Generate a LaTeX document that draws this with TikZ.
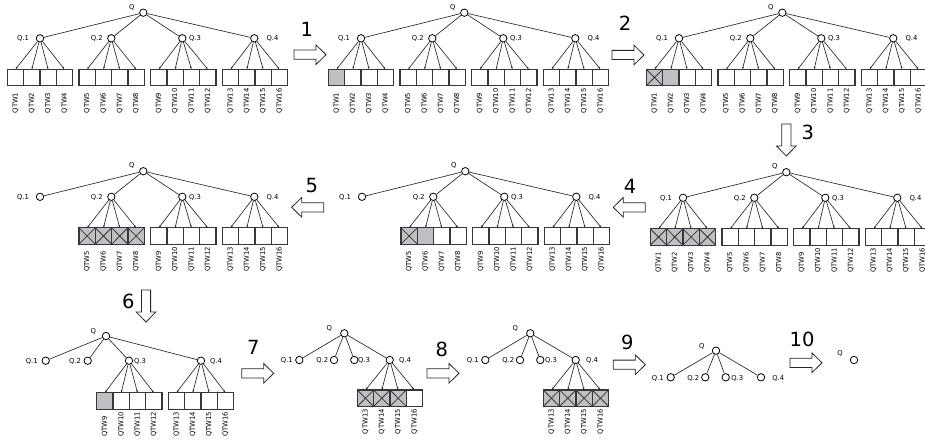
\documentclass[tikz,border=0pt]{standalone}
\usepackage{fontspec}
\setmainfont{DejaVu Sans}
\usetikzlibrary{arrows.meta}
\definecolor{cellgray}{RGB}{192,192,196}
\definecolor{celledge}{RGB}{55,55,55}

\tikzset{
  qc/.style={circle, draw=black, fill=white, line width=0.8pt, minimum size=7.4pt, inner sep=0pt},
  qlab/.style={font=\fontsize{6.8}{7.5}\selectfont, inner sep=0pt, text height=4.9pt, text depth=0pt},
  qtw/.style={font=\fontsize{6.8}{7.5}\selectfont, inner sep=0pt, rotate=90, anchor=west},
  treeln/.style={line width=0.65pt, black!85},
  feed/.style={line width=0.65pt, black!85, -{Latex[length=2.4pt,width=1.9pt]}},
  qbox/.style={draw=celledge, line width=1.1pt, minimum width=16.33pt, minimum height=16.4pt, inner sep=0pt, outer sep=0pt},
  box0/.style={fill=white},
  box1/.style={fill=cellgray},
  box2/.style={fill=cellgray, path picture={
      \draw[celledge, line width=0.8pt]
        (path picture bounding box.north west) -- (path picture bounding box.south east)
        (path picture bounding box.north east) -- (path picture bounding box.south west);}},
  numlab/.style={font=\fontsize{19.5}{21}\selectfont, inner sep=0pt, text height=14.2pt, text depth=0pt},
  pics/blockarrow/.style={code={
      \draw[line width=0.8pt, black!85, fill=white]
        (0,-4.6) -- (22,-4.6) -- (22,-9.8) -- (32,0) -- (22,9.8) -- (22,4.6) -- (0,4.6) -- cycle;}},
}

% four cells under one parent: id, group, left x, top y, parent node, cell states
\newcommand\qgroup[6]{%
  \foreach \s [count=\i] in {#6} {
    \pgfmathsetmacro\bx{#3+16.33*(\i-0.5)}
    \pgfmathtruncatemacro\k{4*(#2-1)+\i}
    \node[qbox, box\s] (#1-b\k) at (\bx, #4+8.2) {};
    \draw[feed] (#5) -- (#1-b\k.north);
    \node[qtw] (#1-t\k) at (\bx, #4+44.2) {QTW\k};
  }%
}
% a group placed in a full tree panel
\newcommand\stdgroup[5]{\qgroup{#1}{#2}{7.3+71.67*(#2-1)+#3}{69.3+#4}{#1-c#2}{#5}}

% root and its four children: id, dx, dy
\newcommand\stdtree[3]{%
  \node[qc] (#1-r) at (143.3+#2, 12.7+#3) {};
  \node[qlab] (#1-rl) at (131.7+#2, 6.7+#3) {Q};
  \node[qc] (#1-c1) at (40+#2, 38.3+#3) {};
  \node[qc] (#1-c2) at (111.3+#2, 38.3+#3) {};
  \node[qc] (#1-c3) at (182.3+#2, 38.3+#3) {};
  \node[qc] (#1-c4) at (254.3+#2, 38.3+#3) {};
  \node[qlab] (#1-l1) at (23+#2, 38.5+#3) {Q.1};
  \node[qlab] (#1-l2) at (96.8+#2, 38.5+#3) {Q.2};
  \node[qlab] (#1-l3) at (195+#2, 38.5+#3) {Q.3};
  \node[qlab] (#1-l4) at (272.5+#2, 38.5+#3) {Q.4};
  \foreach \g in {1,...,4} {\draw[treeln] (#1-r) -- (#1-c\g);}%
}

% small tree with named positions: id, root x,y, Q label x,y, child y,
% child x / label x pairs, extra drawing
\newcommand\smalltree[6]{%
  \node[qc] (#1-r) at (#2) {};
  \node[qlab] (#1-rl) at (#3) {Q};
  \foreach \cx/\lx [count=\g] in {#5} {
    \node[qc] (#1-c\g) at (\cx, #4) {};
    \node[qlab] (#1-l\g) at (\lx, #4+0.3) {Q.\g};
    \draw[treeln] (#1-r) -- (#1-c\g);
  }%
  #6%
}

\begin{document}
\begin{tikzpicture}[x=1pt, y=-1pt]
\useasboundingbox (0,0) rectangle (925,441);

% ---------- top row ----------
\stdtree{p1}{0}{0}
\stdgroup{p1}{1}{0}{0}{0,0,0,0}
\stdgroup{p1}{2}{0}{0}{0,0,0,0}
\stdgroup{p1}{3}{0}{0}{0,0,0,0}
\stdgroup{p1}{4}{0}{0}{0,0,0,0}

\stdtree{p2}{321}{0}
\stdgroup{p2}{1}{321}{0}{1,0,0,0}
\stdgroup{p2}{2}{321}{0}{0,0,0,0}
\stdgroup{p2}{3}{321}{0}{0,0,0,0}
\stdgroup{p2}{4}{321}{0}{0,0,0,0}

\stdtree{p3}{639}{0}
\stdgroup{p3}{1}{639}{0}{2,1,0,0}
\stdgroup{p3}{2}{639}{0}{0,0,0,0}
\stdgroup{p3}{3}{639}{0}{0,0,0,0}
\stdgroup{p3}{4}{639}{0}{0,0,0,0}

% ---------- middle row ----------
\stdtree{p6}{643}{159.5}
\stdgroup{p6}{1}{643}{159.5}{2,2,2,2}
\stdgroup{p6}{2}{643}{159.5}{0,0,0,0}
\stdgroup{p6}{3}{643}{159.5}{0,0,0,0}
\stdgroup{p6}{4}{643}{159.5}{0,0,0,0}

\stdtree{p5}{322}{158.5}
\stdgroup{p5}{2}{322}{158.5}{2,1,0,0}
\stdgroup{p5}{3}{322}{158.5}{0,0,0,0}
\stdgroup{p5}{4}{322}{158.5}{0,0,0,0}

\stdtree{p4}{0}{158.5}
\stdgroup{p4}{2}{0}{158.5}{2,2,2,2}
\stdgroup{p4}{3}{0}{158.5}{0,0,0,0}
\stdgroup{p4}{4}{0}{158.5}{0,0,0,0}

% ---------- bottom row ----------
\smalltree{p7}{106,336}{93.3,331}{360.7}{45.7/31.7, 87.7/75, 129/140, 201/216}{%
  \qgroup{p7}{3}{96.7}{392.7}{p7-c3}{1,0,0,0}%
  \qgroup{p7}{4}{168.3}{392.7}{p7-c4}{0,0,0,0}}

\smalltree{p8}{344.3,333.3}{329.3,328.3}{360}{299.3/286.7, 334/322.3, 354.3/364, 389.7/405}{%
  \qgroup{p8}{4}{357.3}{390}{p8-c4}{2,2,2,0}}

\smalltree{p9}{530.3,333.3}{515.3,328.3}{360}{485.3/472.7, 520/508.3, 540.3/551, 575.7/592}{%
  \qgroup{p9}{4}{543.3}{390}{p9-c4}{2,2,2,2}}

\smalltree{p10}{716,350.7}{701.7,346}{377.3}{670.7/657.7, 705.3/693.3, 725.7/737.3, 761/778.3}{}

\node[qc] (p11-r) at (854,360) {};
\node[qlab] (p11-rl) at (840,353.3) {Q};

% ---------- step arrows and numbers ----------
\pic at (294,54.7) {blockarrow};
\node[numlab] (n1) at (306.7,29.3) {1};
\pic at (612,55) {blockarrow};
\node[numlab] (n2) at (625,23.3) {2};
\pic[rotate=-90] at (786.3,124) {blockarrow};
\node[numlab] (n3) at (807.7,132) {3};
\pic[rotate=180] at (645.3,207.3) {blockarrow};
\node[numlab] (n4) at (630,186.5) {4};
\pic[rotate=180] at (323.7,207.3) {blockarrow};
\node[numlab] (n5) at (311.7,185) {5};
\pic[rotate=-90] at (146,290) {blockarrow};
\node[numlab] (n6) at (128.3,301.7) {6};
\pic at (241.7,373.3) {blockarrow};
\node[numlab] (n7) at (253.3,347) {7};
\pic at (427,373.3) {blockarrow};
\node[numlab] (n8) at (441.7,349.5) {8};
\pic at (613.3,364.7) {blockarrow};
\node[numlab] (n9) at (627.3,342.3) {9};
\pic at (790,362.8) {blockarrow};
\node[numlab] (n10) at (802,339) {10};
\end{tikzpicture}
\end{document}
